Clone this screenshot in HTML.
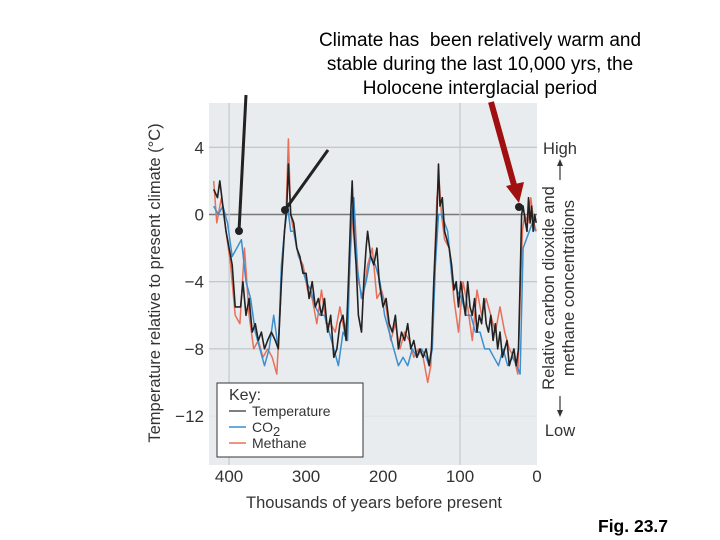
<!DOCTYPE html>
<html><head><meta charset="utf-8"><style>
html,body{margin:0;padding:0;background:#fff;}
svg{display:block;font-family:"Liberation Sans",sans-serif;}
</style></head><body>
<svg id="chart" width="720" height="540" viewBox="0 0 720 540">
<g font-size="19" fill="#000" text-anchor="middle">
<text x="480" y="46">Climate has&#160; been relatively warm and</text>
<text x="480" y="70">stable during the last 10,000 yrs, the</text>
<text x="480" y="94">Holocene interglacial period</text>
</g>
<rect x="209" y="103" width="328" height="362" fill="#e9ecef"/>
<g id="grid"></g>
<g id="series"></g>
<g id="axes" font-size="17" fill="#333"></g>
<text transform="translate(160,283) rotate(-90)" text-anchor="middle" font-size="16.5" fill="#333">Temperature relative to present climate (°C)</text>
<text x="374" y="508" text-anchor="middle" font-size="16.5" fill="#333">Thousands of years before present</text>
<g font-size="16.5" fill="#333" text-anchor="middle">
<text transform="translate(554,288) rotate(-90)">Relative carbon dioxide and</text>
<text transform="translate(574,288) rotate(-90)">methane concentrations</text>
<text x="560" y="154">High</text>
<text x="560" y="436">Low</text>
<line x1="560" y1="180" x2="560" y2="162" stroke="#333" stroke-width="1.2"/>
<polygon points="557,166 563,166 560,159" fill="#333"/>
<line x1="560" y1="396" x2="560" y2="414" stroke="#333" stroke-width="1.2"/>
<polygon points="557,410 563,410 560,417" fill="#333"/>
</g>
<g>
<rect x="217" y="383" width="146" height="74" fill="#fff" stroke="#333" stroke-width="1"/>
<text x="229" y="400" font-size="16" fill="#333">Key:</text>
<line x1="229" y1="411" x2="246" y2="411" stroke="#555" stroke-width="1.5"/>
<text x="252" y="416" font-size="14" fill="#333">Temperature</text>
<line x1="229" y1="427" x2="246" y2="427" stroke="#3a8fd0" stroke-width="1.5"/>
<text x="252" y="432" font-size="14" fill="#333">CO<tspan font-size="13" dy="4">2</tspan></text>
<line x1="229" y1="443" x2="246" y2="443" stroke="#e8705a" stroke-width="1.5"/>
<text x="252" y="448" font-size="14" fill="#333">Methane</text>
</g>
<g>
<line x1="246" y1="95" x2="239" y2="231" stroke="#222" stroke-width="3"/>
<circle cx="239" cy="231" r="4" fill="#222"/>
<line x1="328" y1="150" x2="285" y2="210" stroke="#222" stroke-width="3"/>
<circle cx="285" cy="210" r="4" fill="#222"/>
<line x1="491" y1="102" x2="514" y2="185" stroke="#a01010" stroke-width="6"/>
<polygon points="506,186 524,182 519,203" fill="#a01010"/>
<circle cx="519" cy="207" r="4" fill="#222"/>
</g>
<text x="598" y="532" font-size="17.5" font-weight="bold" fill="#000">Fig. 23.7</text>
</svg>
<script>
const yTicks=[4,0,-4,-8,-12];
const xTicks=[400,300,200,100,0];
const tempT=[420,415,412,408,404,400,396,392,388,385,382,378,374,370,366,362,358,354,350,345,340,336,332,328,325,323,320,316,312,308,304,300,296,292,288,284,280,276,272,268,264,260,256,252,248,245,242,240,238,235,232,228,225,222,220,216,212,208,205,200,196,192,188,184,180,176,172,168,164,160,156,152,148,144,140,137,134,130,128,126,123,120,117,114,111,108,105,102,99,96,93,90,87,84,81,78,75,72,69,66,63,60,57,54,51,48,45,42,39,36,33,30,27,24,22,20,18,15,13,11,9,7,5,3,1];
const tempV=[1.5,1,2,0.5,-1,-2,-3,-5.5,-5.5,-5.5,-4,-6,-5,-7,-6.5,-7.5,-7,-8,-7.5,-7,-7.5,-8,-4,-1,0.5,3,0,-0.5,-2,-2.5,-3.5,-3.5,-5,-4,-5.5,-5,-6,-5,-7,-6,-8.5,-8,-6.5,-6,-7.5,-4,0,2,-1,-3,-6,-7,-4,-2,-1,-2.5,-3,-2,-4,-5.5,-5,-6.5,-7,-6,-8,-7,-7.5,-6.5,-8,-7.5,-8.5,-8,-8.5,-8,-9,-8,-4,0,3,0.5,1,-1,-1.5,-2,-3,-4.5,-4,-5.5,-4,-5,-6,-4,-5.5,-6,-5,-7,-6,-6.5,-5,-6.5,-7,-6,-7.5,-6.5,-8,-7,-8.5,-8,-7.5,-9,-8.5,-8,-9,-8,-4,0,0.5,-0.5,-1,1,-0.5,0.5,-1,0,-0.5];
const co2T=[420,414,408,402,396,390,384,378,372,366,360,354,348,342,336,332,328,324,320,316,312,306,300,294,288,282,276,270,264,258,252,246,242,238,234,228,222,216,210,204,198,192,186,180,174,168,162,156,150,144,140,136,132,128,124,120,116,110,104,98,92,86,80,74,68,62,56,50,44,38,32,26,22,18,14,10,6,2];
const co2V=[0.5,0,0.5,-0.5,-2.5,-2,-1.5,-4,-5,-7,-8,-9,-8,-6,-8,-3,-1,0.5,-1,-1,-2,-3,-4,-4.5,-5.5,-6,-6,-7,-8,-9,-7,-7.5,-1,1,-3,-5,-4,-2.5,-3,-4,-6,-7,-8,-9,-8.5,-9,-8,-8.5,-8,-8.5,-9,-8,-3,0,0,-0.5,-1,-4,-4.5,-5,-6,-6,-7,-7,-8,-8,-8.5,-9,-8,-9,-8.5,-9,-9.5,-2,-1.5,-1,-0.5,-1];
const chT=[420,416,410,404,398,392,386,380,374,368,362,356,350,344,338,334,330,326,323,320,316,310,304,298,292,286,280,274,268,262,256,250,246,242,238,232,226,220,214,208,202,196,190,184,178,172,166,160,154,148,142,138,134,130,127,124,120,114,108,102,96,90,84,78,72,66,60,54,48,42,36,30,25,22,19,16,12,8,4,1];
const chV=[2,-0.5,1,-1,-3,-6,-6.5,-2,-6,-8,-7.5,-8.5,-8,-8.5,-9.5,-6,-2,0,4.5,0,-1,-2.5,-3,-4.5,-5,-6.5,-4.5,-6.5,-6.5,-7,-5.5,-7,-6,-2,1,-4,-5,-3,-2,-5,-4.5,-5.5,-7.5,-6.5,-8,-7,-7.5,-8.5,-8,-8.5,-10,-9,-4,1,2,0,-1.5,-2,-5,-7,-4,-5.5,-7.5,-4.5,-6,-5,-6,-7,-5.5,-7,-8,-8.5,-9.5,-5,-1,0,-0.5,1,-0.5,-1];
const NS='http://www.w3.org/2000/svg';
const sx=v=>537-v*0.7698;
const sy=v=>214.5-v*16.8;
const grid=document.getElementById('grid');
const axes=document.getElementById('axes');
const series=document.getElementById('series');
yTicks.forEach(t=>{
 const l=document.createElementNS(NS,'line');
 
 
 l.setAttribute('x1',209);l.setAttribute('x2',537);l.setAttribute('y1',sy(t));l.setAttribute('y2',sy(t));
 l.setAttribute('stroke',t===0?'#777':(t===-12?'#dfe2e5':'#b8bcc0'));l.setAttribute('stroke-width',t===0?1.6:1);
 grid.appendChild(l);
 const tx=document.createElementNS(NS,'text');
 
 
 tx.setAttribute('x',204);tx.setAttribute('y',sy(t)+6);tx.setAttribute('text-anchor','end');
 tx.textContent=t<0?'\u2212'+Math.abs(t):String(t);
 axes.appendChild(tx);
});
[400,100].forEach(t=>{
 const l=document.createElementNS(NS,'line');
 
 
 l.setAttribute('x1',sx(t));l.setAttribute('x2',sx(t));l.setAttribute('y1',103);l.setAttribute('y2',465);
 l.setAttribute('stroke','#c4c8cc');l.setAttribute('stroke-width',1.2);
 grid.appendChild(l);
});
xTicks.forEach(t=>{
 const tx=document.createElementNS(NS,'text');
 
 
 tx.setAttribute('x',sx(t));tx.setAttribute('y',482);tx.setAttribute('text-anchor','middle');
 tx.textContent=String(t);
 axes.appendChild(tx);
});
function line(T,V,color,w,name){
 const p=document.createElementNS(NS,'polyline');
 
 
 p.setAttribute('points',T.map((t,i)=>sx(t).toFixed(1)+','+sy(V[i]).toFixed(1)).join(' '));
 p.setAttribute('fill','none');p.setAttribute('stroke',color);p.setAttribute('stroke-width',w);
 p.setAttribute('stroke-linejoin','round');
 series.appendChild(p);
}
line(chT,chV,'#e8705a',1.5,'methane-line');
line(co2T,co2V,'#3a8fd0',1.5,'co2-line');
line(tempT,tempV,'#222',1.6,'temperature-line');
</script>
</body></html>
